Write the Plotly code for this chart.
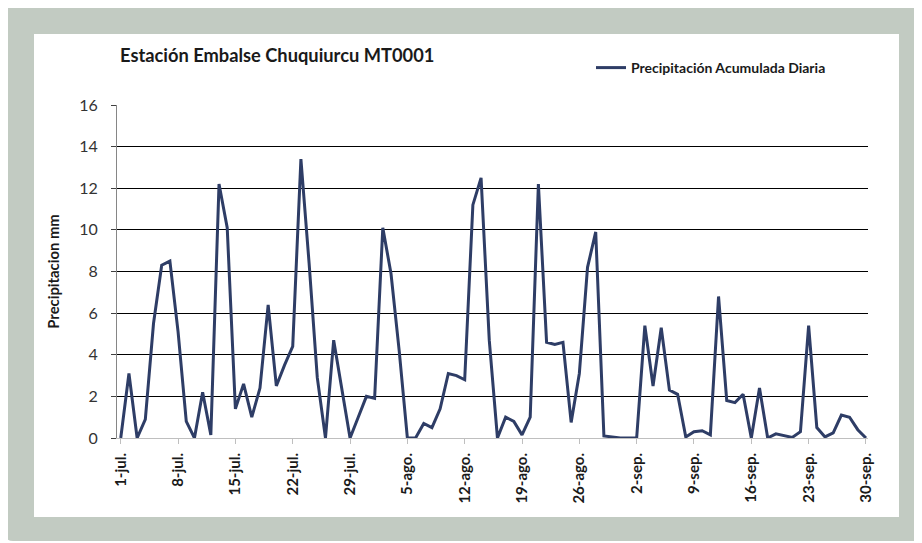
import pandas as pd
import plotly.graph_objects as go

# daily accumulated precipitation (mm), 1-jul .. 30-sep
fechas = pd.date_range("2013-07-01", "2013-09-30", freq="D")
precip_jul = [
    0, 3.1, 0, 0.9, 5.5, 8.3, 8.5, 5.1, 0.8, 0, 2.2, 0.15, 12.2, 10.1, 1.4, 2.6,
    1.0, 2.4, 6.4, 2.5, 3.5, 4.4, 13.4, 8.4, 2.9, 0, 4.7, 2.3, 0, 1.0, 2.0,
]
precip_ago = [
    1.9, 10.1, 7.9, 4.2, 0, 0, 0.7, 0.5, 1.4, 3.1, 3.0, 2.8, 11.2, 12.5, 4.7, 0,
    1.0, 0.8, 0.15, 1.0, 12.2, 4.6, 4.5, 4.6, 0.75, 3.1, 8.2, 9.9, 0.1, 0.05, 0,
]
precip_sep = [
    0, 0, 5.4, 2.5, 5.3, 2.3, 2.1, 0.05, 0.3, 0.35, 0.15, 6.8, 1.8, 1.7, 2.1, 0,
    2.4, 0, 0.2, 0.1, 0.03, 0.3, 5.4, 0.5, 0.05, 0.25, 1.1, 1.0, 0.4, 0,
]
precipitacion = precip_jul + precip_ago + precip_sep

tick_fechas = fechas[::7]
tick_textos = [
    "1-jul.", "8-jul.", "15-jul.", "22-jul.", "29-jul.", "5-ago.", "12-ago.",
    "19-ago.", "26-ago.", "2-sep.", "9-sep.", "16-sep.", "23-sep.", "30-sep.",
]

_LINE_COLOR = "#2E3D66"
_FRAME_COLOR = "#C2CBC2"
_FONT = "Lato, 'Open Sans', sans-serif"

# the page body adds an 8px margin, so page pixels are shifted by OFF
OFF = 8
W, H = 922 - OFF, 543 - OFF
L, R, T, B = 117 - OFF, 868 - OFF, 105 - OFF, 438 - OFF  # plot area


def px(x):
    # page pixel -> paper x
    return (x - OFF - L) / (R - L)


def py(y):
    # page pixel -> paper y
    return (B - (y - OFF)) / (B - T)


def rounded_rect(x0, y0, x1, y1, r):
    return (
        f"M {px(x0 + r)},{py(y0)} L {px(x1 - r)},{py(y0)} "
        f"Q {px(x1)},{py(y0)} {px(x1)},{py(y0 + r)} "
        f"L {px(x1)},{py(y1 - r)} Q {px(x1)},{py(y1)} {px(x1 - r)},{py(y1)} "
        f"L {px(x0 + r)},{py(y1)} Q {px(x0)},{py(y1)} {px(x0)},{py(y1 - r)} "
        f"L {px(x0)},{py(y0 + r)} Q {px(x0)},{py(y0)} {px(x0 + r)},{py(y0)} Z"
    )


fig = go.Figure()
fig.add_trace(
    go.Scatter(
        x=fechas,
        y=precipitacion,
        mode="lines",
        name="<b>Precipitación Acumulada Diaria</b>",
        line={"color": _LINE_COLOR, "width": 3},
    )
)

# --- frame: grey-green rounded border + white panel ---
fig.add_shape(
    type="path",
    xref="paper",
    yref="paper",
    path=rounded_rect(5, 5, 940, 541, 8),
    fillcolor=_FRAME_COLOR,
    line={"width": 0},
    layer="below",
)
fig.add_shape(
    type="rect",
    xref="paper",
    yref="paper",
    x0=px(34),
    x1=px(899),
    y0=py(517),
    y1=py(34),
    fillcolor="white",
    line={"width": 0},
    layer="below",
)

fig.update_layout(
    width=W,
    height=H,
    margin={"l": L, "r": W - R, "t": T, "b": H - B, "pad": 0},
    paper_bgcolor="white",
    plot_bgcolor="rgba(0,0,0,0)",
    font={"family": _FONT, "color": "#262626"},
    title={
        "text": "<b>Estación Embalse Chuquiurcu MT0001</b>",
        "font": {"size": 18.3, "color": "#1a1a1a"},
        "xref": "container",
        "yref": "container",
        "x": (120 - OFF) / W,
        "xanchor": "left",
        "y": 1 - (56 - OFF) / H,
        "yanchor": "middle",
    },
    showlegend=True,
    legend={
        "x": px(591),
        "xanchor": "left",
        "y": py(68),
        "yanchor": "middle",
        "bgcolor": "rgba(0,0,0,0)",
        "font": {"size": 14, "color": "#1a1a1a", "family": _FONT},
        "itemwidth": 30,
    },
    xaxis={
        "range": [
            fechas[0] - pd.Timedelta(hours=11),
            fechas[-1] + pd.Timedelta(hours=6),
        ],
        "tickvals": tick_fechas,
        "ticktext": [f"<b>{t}</b>" for t in tick_textos],
        "tickangle": -90,
        "tickfont": {"size": 15, "color": "#1a1a1a"},
        "ticks": "outside",
        "ticklen": 5,
        "tickcolor": "#BFBFBF",
        "showline": True,
        "linecolor": "#BFBFBF",
        "linewidth": 1,
        "showgrid": False,
        "zeroline": False,
        "ticklabelstandoff": 3,
    },
    yaxis={
        "range": [0, 16],
        "dtick": 2,
        "tickfont": {"size": 16, "color": "#333333"},
        "ticks": "outside",
        "ticklen": 5,
        "tickcolor": "#404040",
        "showline": True,
        "linecolor": "#868686",
        "linewidth": 1,
        "showgrid": True,
        "gridcolor": "black",
        "gridwidth": 1.3,
        "zeroline": False,
        "ticklabelstandoff": 10,
        "title": {
            "text": "<b>Precipitacion mm</b>",
            "font": {"size": 14.8, "color": "#1a1a1a"},
            "standoff": 16,
        },
    },
)

fig.write_html("out.html")
